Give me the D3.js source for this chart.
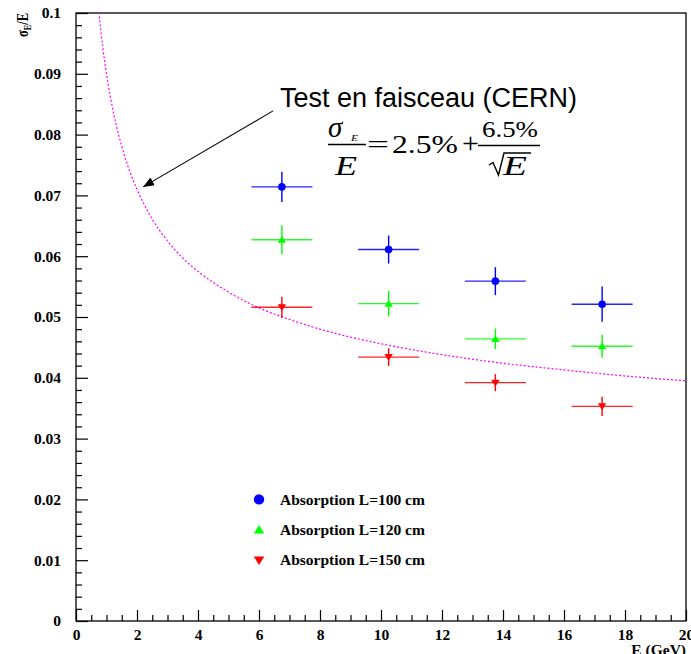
<!DOCTYPE html>
<html>
<head>
<meta charset="utf-8">
<script src="https://cdn.jsdelivr.net/npm/d3@7"></script>
<style>
  html, body { margin: 0; padding: 0; background: #fff; }
  svg { display: block; }
</style>
</head>
<body>
<svg id="chart" width="691" height="654"></svg>
<script>
// ---------------- data ----------------
const energies   = [6.75, 10.25, 13.75, 17.25];
const energyErr  = [1.0, 1.0, 1.0, 1.0];
const res100     = [0.0714, 0.0611, 0.0559, 0.0521];
const err100     = [0.0025, 0.0023, 0.0023, 0.0029];
const res120     = [0.0627, 0.0522, 0.0464, 0.0452];
const err120     = [0.0024, 0.0021, 0.0017, 0.0019];
const res150     = [0.0516, 0.0434, 0.0392, 0.0353];
const err150     = [0.00175, 0.00145, 0.0014, 0.0016];
const seriesLabels = ["Absorption L=100 cm", "Absorption L=120 cm", "Absorption L=150 cm"];
// CERN beam-test curve
const curveE   = [0.75, 0.875, 1, 1.25, 1.5, 1.75, 2, 2.5, 3, 3.5, 4, 5, 6, 7, 8, 10, 12, 14, 16, 18, 20];
const curveRes = [0.1001, 0.0945, 0.0900, 0.0831, 0.0781, 0.0741, 0.0710, 0.0661, 0.0625, 0.0597, 0.0575, 0.0541, 0.0515, 0.0496, 0.0480, 0.0456, 0.0438, 0.0424, 0.0413, 0.0403, 0.0395];
const xTicks = [0, 2, 4, 6, 8, 10, 12, 14, 16, 18, 20];
const xTickLabels = ["0", "2", "4", "6", "8", "10", "12", "14", "16", "18", "20"];
const yTicks = [0, 0.01, 0.02, 0.03, 0.04, 0.05, 0.06, 0.07, 0.08, 0.09, 0.1];
const yTickLabels = ["0", "0.01", "0.02", "0.03", "0.04", "0.05", "0.06", "0.07", "0.08", "0.09", "0.1"];
// annotation arrow (data coordinates)
const arrowFrom = [6.46, 0.0839];
const arrowTo   = [2.2, 0.0714];
const legendE   = 6.0;
const legendY   = [0.02, 0.015, 0.01];

// ---------------- layout ----------------
const svg = d3.select("#chart");
const L = 76, R = 686, T = 13, B = 621;
const x = d3.scaleLinear().domain([0, 20]).range([L, R]);
const y = d3.scaleLinear().domain([0, 0.1]).range([B, T]);
const serif = "'Liberation Serif', 'Times New Roman', serif";
const sans = "'Liberation Sans', Arial, sans-serif";

svg.append("defs").append("clipPath").attr("id", "clip")
  .append("rect").attr("x", L).attr("y", T).attr("width", R - L).attr("height", B - T);

// minor ticks
const xMinor = d3.range(0, 20.001, 0.5).filter(v => Math.abs(v / 2 - Math.round(v / 2)) > 1e-6);
const yMinor = d3.range(0, 0.1001, 0.002).filter(v => Math.abs(v / 0.01 - Math.round(v / 0.01)) > 1e-6);

const gx = svg.append("g").attr("transform", `translate(0,${B})`)
  .call(d3.axisBottom(x).tickValues(xTicks).tickSize(-11).tickPadding(8)
    .tickFormat((d, i) => xTickLabels[i]));
const gxm = svg.append("g").attr("transform", `translate(0,${B})`)
  .call(d3.axisBottom(x).tickValues(xMinor).tickSize(-6).tickFormat(""));
const gy = svg.append("g").attr("transform", `translate(${L},0)`)
  .call(d3.axisLeft(y).tickValues(yTicks).tickSize(-12).tickPadding(15)
    .tickFormat((d, i) => yTickLabels[i]));
const gym = svg.append("g").attr("transform", `translate(${L},0)`)
  .call(d3.axisLeft(y).tickValues(yMinor).tickSize(-6).tickFormat(""));

[gx, gxm, gy, gym].forEach(g => {
  g.select(".domain").remove();
  g.selectAll("line").attr("stroke", "#000").attr("stroke-width", 1.2);
});
[gx, gy].forEach(g => g.selectAll("text")
  .attr("font-family", serif).attr("font-weight", "bold").attr("font-size", "15.5px").attr("fill", "#000"));
gx.selectAll("text").attr("dy", "0.71em");

// frame
svg.append("rect").attr("x", L).attr("y", T).attr("width", R - L).attr("height", B - T)
  .attr("fill", "none").attr("stroke", "#000").attr("stroke-width", 1.3);

// axis titles
svg.append("text").attr("x", R).attr("y", 655).attr("text-anchor", "end")
  .attr("font-family", serif).attr("font-weight", "bold").attr("font-size", "15.5px")
  .text("E (GeV)");
const yt = svg.append("text").attr("transform", `translate(28,${T}) rotate(-90)`)
  .attr("text-anchor", "end").attr("font-family", serif).attr("font-weight", "bold")
  .attr("font-size", "17px").attr("textLength", 24).attr("lengthAdjust", "spacingAndGlyphs");
yt.append("tspan").text("σ");
yt.append("tspan").attr("font-size", "11px").attr("dy", 3).text("E");
yt.append("tspan").attr("dy", -3).text("/E");

// curve
svg.append("path")
  .datum(curveE.map((e, i) => [e, curveRes[i]]))
  .attr("clip-path", "url(#clip)")
  .attr("fill", "none").attr("stroke", "#ff00ff").attr("stroke-width", 1.2)
  .attr("stroke-dasharray", "2,2")
  .attr("d", d3.line().x(d => x(d[0])).y(d => y(d[1])).curve(d3.curveMonotoneX));

// markers
function marker(sel, type, s) {
  if (type === "circle") {
    return sel.append("circle").attr("r", s);
  }
  const h = s * 0.9;
  const p = type === "up"
    ? `M0,${-h} L${s},${h * 0.8} L${-s},${h * 0.8} Z`
    : `M0,${h} L${s},${-h * 0.8} L${-s},${-h * 0.8} Z`;
  return sel.append("path").attr("d", p);
}

const series = [
  { vals: res100, errs: err100, color: "#0000ff", type: "circle" },
  { vals: res120, errs: err120, color: "#00ff00", type: "up" },
  { vals: res150, errs: err150, color: "#ff0000", type: "down" }
];

series.forEach((s, si) => {
  const g = svg.append("g");
  energies.forEach((e, i) => {
    const cx = x(e), cy = y(s.vals[i]);
    g.append("line").attr("x1", x(e - energyErr[i])).attr("x2", x(e + energyErr[i]))
      .attr("y1", cy).attr("y2", cy).attr("stroke", s.color).attr("stroke-width", 1.4).attr("opacity", 0.85);
    g.append("line").attr("x1", cx).attr("x2", cx)
      .attr("y1", y(s.vals[i] - s.errs[i])).attr("y2", y(s.vals[i] + s.errs[i]))
      .attr("stroke", s.color).attr("stroke-width", 1.4);
    const m = s.type === "circle"
      ? marker(g.append("g").attr("transform", `translate(${cx},${cy})`), "circle", 3.8)
      : marker(g.append("g").attr("transform", `translate(${cx},${cy})`), s.type, 4.2);
    m.attr("fill", s.color);
  });
  // legend
  const ly = y(legendY[si]);
  const lg = svg.append("g").attr("transform", `translate(${x(legendE)},${ly})`);
  (s.type === "circle" ? marker(lg, "circle", 5.2) : marker(lg, s.type, 5.3)).attr("fill", s.color);
  svg.append("text").attr("x", x(legendE) + 21).attr("y", ly).attr("dy", "0.33em")
    .attr("font-family", serif).attr("font-weight", "bold").attr("font-size", "15.5px")
    .attr("fill", "#000").text(seriesLabels[si]);
});

// annotation arrow
svg.append("defs").append("marker").attr("id", "arr")
  .attr("viewBox", "0 0 10 10").attr("refX", 10).attr("refY", 5)
  .attr("markerWidth", 11).attr("markerHeight", 11).attr("markerUnits", "userSpaceOnUse")
  .attr("orient", "auto")
  .append("path").attr("d", "M0,1 L10,5 L0,9 Z").attr("fill", "#000");
svg.append("line")
  .attr("x1", x(arrowFrom[0])).attr("y1", y(arrowFrom[1]))
  .attr("x2", x(arrowTo[0])).attr("y2", y(arrowTo[1]))
  .attr("stroke", "#000").attr("stroke-width", 1.1).attr("marker-end", "url(#arr)");

svg.append("text").attr("x", 280).attr("y", 107)
  .attr("font-family", sans).attr("font-size", "27px").attr("fill", "#000")
  .text("Test en faisceau (CERN)");

// formula σE/E = 2.5% + 6.5%/√E
const f = svg.append("g").attr("font-family", serif).attr("fill", "#000");
function ft(str, px, py, size, italic, len) {
  const t = f.append("text").attr("x", px).attr("y", py).attr("font-size", size + "px")
    .attr("font-style", italic ? "italic" : "normal").text(str);
  if (len) t.attr("textLength", len).attr("lengthAdjust", "spacingAndGlyphs");
  return t;
}
ft("σ", 328, 136.5, 29, true);
ft("E", 351, 140.5, 9, true, 7);
f.append("line").attr("x1", 328).attr("x2", 366).attr("y1", 144.5).attr("y2", 144.5)
  .attr("stroke", "#000").attr("stroke-width", 1.4);
ft("E", 335, 174.5, 28, true, 22);
ft("=", 367, 153, 26, false, 22);
ft("2.5%", 392, 153, 26, false, 66);
ft("+", 462, 153, 30, false);
ft("6.5%", 482, 137.3, 24, false, 56);
f.append("line").attr("x1", 478).attr("x2", 540).attr("y1", 145.5).attr("y2", 145.5)
  .attr("stroke", "#000").attr("stroke-width", 1.4);
f.append("path").attr("d", "M489,165 L493,162.5 L498.5,175 L504,153 L531,153")
  .attr("fill", "none").attr("stroke", "#000").attr("stroke-width", 1.4);
ft("E", 503, 175, 28, true, 24);
</script>
</body>
</html>
